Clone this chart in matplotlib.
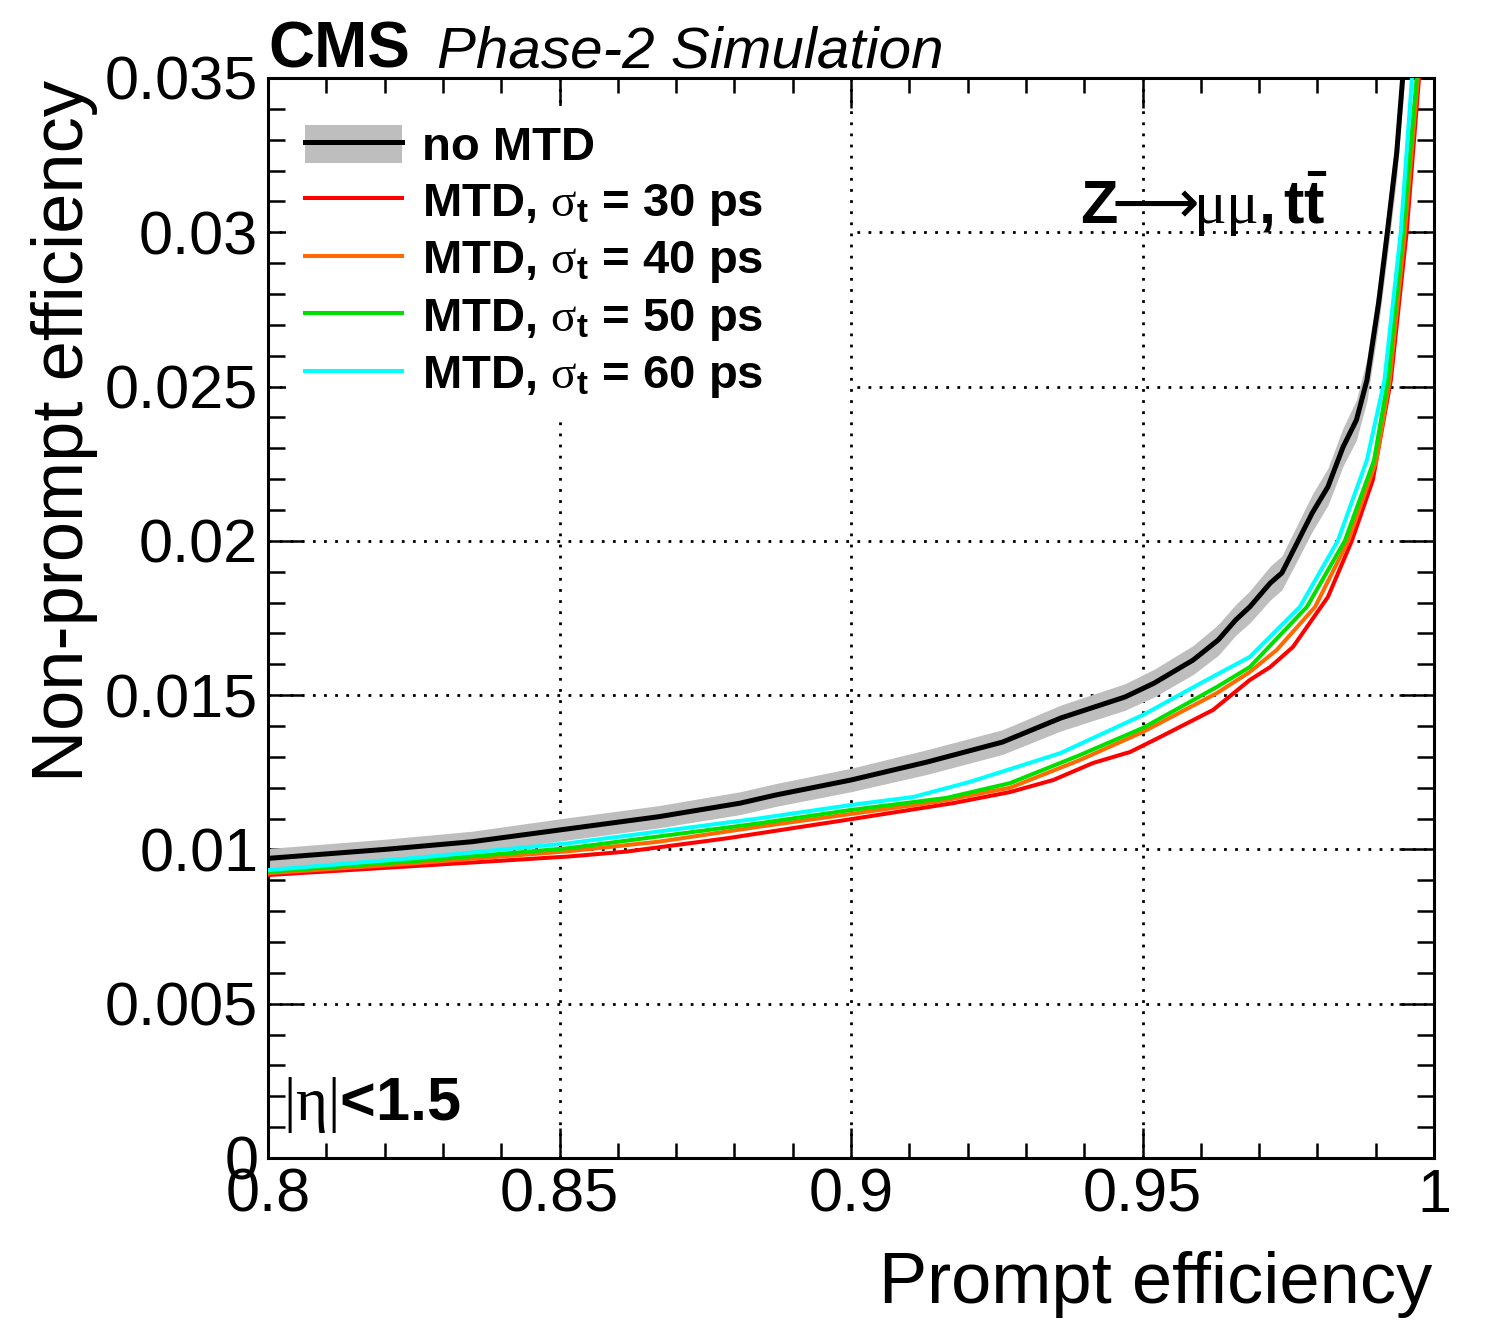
import matplotlib
matplotlib.use("Agg")
import matplotlib.pyplot as plt
from matplotlib.ticker import MultipleLocator, FixedLocator, FixedFormatter
from matplotlib.patches import Patch
from matplotlib.lines import Line2D
from matplotlib.legend_handler import HandlerTuple

plt.rcParams['font.family'] = ['Liberation Sans', 'DejaVu Sans']
plt.rcParams['mathtext.fontset'] = 'custom'
plt.rcParams['mathtext.rm'] = 'Liberation Serif'
plt.rcParams['mathtext.it'] = 'Liberation Serif:italic'
plt.rcParams['mathtext.bf'] = 'Liberation Sans:bold'
plt.rcParams['mathtext.sf'] = 'DejaVu Sans'

# ---------------- data ----------------
nomtd_x = [0.800, 0.820, 0.835, 0.850, 0.867, 0.881, 0.887, 0.900, 0.913, 0.926,
           0.936, 0.947, 0.952, 0.9587, 0.963, 0.966, 0.9684, 0.9719, 0.9739, 0.9767,
           0.9791, 0.9818, 0.9844, 0.9867, 0.9885, 0.9905, 0.9920, 0.9936, 0.9946, 0.9955]
nomtd_y = [0.00971, 0.01000, 0.01025, 0.01063, 0.01106, 0.01150, 0.01176, 0.01225, 0.01283, 0.01348,
           0.01426, 0.01494, 0.01539, 0.01614, 0.01679, 0.01744, 0.01786, 0.01863, 0.01896, 0.02000,
           0.02090, 0.02175, 0.02304, 0.02392, 0.02521, 0.02771, 0.03000, 0.03257, 0.03494, 0.03720]
nomtd_err = [0.00032, 0.00033, 0.00034, 0.00036, 0.00036, 0.00037, 0.00037, 0.00038, 0.00040, 0.00040,
             0.00042, 0.00043, 0.00045, 0.00047, 0.00050, 0.00050, 0.00052, 0.00055, 0.00055, 0.00058,
             0.00060, 0.00060, 0.00062, 0.00065, 0.00068, 0.00070, 0.00075, 0.00080, 0.00080, 0.00080]

mtd30_x = [0.800, 0.825, 0.8515, 0.8615, 0.8787, 0.900, 0.9175, 0.9273, 0.9347, 0.9415,
           0.9479, 0.9530, 0.9621, 0.9684, 0.9719, 0.9758, 0.9818, 0.9859, 0.9895, 0.9926,
           0.9953, 0.9974, 0.9980]
mtd30_y = [0.00917, 0.00946, 0.00977, 0.00993, 0.01036, 0.01098, 0.01150, 0.01186, 0.01225, 0.01280,
           0.01316, 0.01364, 0.01452, 0.01549, 0.01591, 0.01656, 0.01818, 0.02000, 0.02197, 0.02521,
           0.03000, 0.03494, 0.03720]

mtd40_x = [0.800, 0.825, 0.8515, 0.867, 0.8844, 0.900, 0.915, 0.9273, 0.9393, 0.9501,
           0.9628, 0.9684, 0.9730, 0.9796, 0.9853, 0.9901, 0.9924, 0.9950, 0.9972, 0.9978]
mtd40_y = [0.00923, 0.00955, 0.00994, 0.01025, 0.01074, 0.01115, 0.01155, 0.01200, 0.01290, 0.01381,
           0.01507, 0.01575, 0.01646, 0.01786, 0.02000, 0.02260, 0.02521, 0.03000, 0.03494, 0.03720]

mtd50_x = [0.800, 0.825, 0.8515, 0.867, 0.8844, 0.900, 0.9164, 0.9273, 0.9393, 0.9501,
           0.9628, 0.9684, 0.9782, 0.9847, 0.9897, 0.9921, 0.9947, 0.9970, 0.9976]
mtd50_y = [0.00928, 0.00962, 0.01004, 0.01042, 0.01085, 0.01128, 0.01167, 0.01215, 0.01306, 0.01394,
           0.01527, 0.01591, 0.01786, 0.02000, 0.02260, 0.02521, 0.03000, 0.03494, 0.03720]

mtd60_x = [0.800, 0.825, 0.8515, 0.867, 0.8844, 0.900, 0.9107, 0.9204, 0.9359, 0.9501,
           0.9604, 0.9684, 0.9770, 0.9835, 0.9885, 0.9915, 0.9943, 0.9962, 0.9970]
mtd60_y = [0.00933, 0.00972, 0.01020, 0.01058, 0.01101, 0.01144, 0.01170, 0.01219, 0.01312, 0.01436,
           0.01543, 0.01624, 0.01786, 0.02000, 0.02262, 0.02521, 0.03000, 0.03494, 0.03720]

labels = ["no MTD",
          r"MTD, $\mathrm{\sigma}_{\mathbf{t}}$ = 30 ps",
          r"MTD, $\mathrm{\sigma}_{\mathbf{t}}$ = 40 ps",
          r"MTD, $\mathrm{\sigma}_{\mathbf{t}}$ = 50 ps",
          r"MTD, $\mathrm{\sigma}_{\mathbf{t}}$ = 60 ps"]
colors = ["#000000", "#ff0000", "#ff6a00", "#00e000", "#00ffff"]

xticks = [0.8, 0.85, 0.9, 0.95, 1.0]
xticklabels = ["0.8", "0.85", "0.9", "0.95", "1"]
yticks = [0, 0.005, 0.01, 0.015, 0.02, 0.025, 0.03, 0.035]
yticklabels = ["0", "0.005", "0.01", "0.015", "0.02", "0.025", "0.03", "0.035"]

# ---------------- figure ----------------
W, H = 1485, 1320
fig = plt.figure(figsize=(W / 100, H / 100), dpi=100)
L, R, B, T = 268, 1434, 1158, 78
ax = fig.add_axes([L / W, 1 - B / H, (R - L) / W, (B - T) / H])
ax.set_xlim(0.8, 1.0)
ax.set_ylim(0, 0.035)

# band + lines
lo = [y - e for y, e in zip(nomtd_y, nomtd_err)]
hi = [y + e for y, e in zip(nomtd_y, nomtd_err)]
ax.fill_between(nomtd_x, lo, hi, color="#bebebe", lw=0, zorder=2)
mtd_series = [(mtd30_x, mtd30_y), (mtd40_x, mtd40_y), (mtd50_x, mtd50_y), (mtd60_x, mtd60_y)]
mtd_handles = []
for (xs, ys), c in zip(mtd_series, colors[1:]):
    h, = ax.plot(xs, ys, color=c, lw=2.9, zorder=3, solid_joinstyle='round')
    mtd_handles.append(h)
hb, = ax.plot(nomtd_x, nomtd_y, color="black", lw=3.6, zorder=4, solid_joinstyle='round')

# ticks
ax.xaxis.set_major_locator(FixedLocator(xticks))
ax.xaxis.set_major_formatter(FixedFormatter(xticklabels))
ax.yaxis.set_major_locator(FixedLocator(yticks))
ax.yaxis.set_major_formatter(FixedFormatter(yticklabels))
ax.xaxis.set_minor_locator(MultipleLocator(0.01))
ax.yaxis.set_minor_locator(MultipleLocator(0.001))
ax.tick_params(axis='both', which='both', direction='in', top=True, right=True, width=1.8)
ax.tick_params(axis='x', which='major', length=21.6, labelsize=44, pad=7)
ax.tick_params(axis='x', which='minor', length=10.5)
ax.tick_params(axis='y', which='major', length=25, labelsize=44, pad=7)
ax.tick_params(axis='y', which='minor', length=12.5)
for s in ax.spines.values():
    s.set_linewidth(2.2)
ax.grid(True, which='major', color='black', lw=2.0, linestyle=(0, (1, 3.0)), zorder=1)
ax.set_axisbelow(True)

# axis labels
ax.set_xlabel("Prompt efficiency", fontsize=52, loc='right')
ax.xaxis.set_label_coords((1432 - L) / (R - L), (B - 1251) / (B - T))
ax.xaxis.label.set_va('top')
ax.set_ylabel("Non-prompt efficiency", fontsize=52, loc='top', va='top')
ax.yaxis.set_label_coords((31 - L) / (R - L), (B - 80) / (B - T))

# header
ax.text(0.0, (B - 68) / (B - T), "CMS", transform=ax.transAxes, fontsize=46,
        fontweight='bold', ha='left', va='baseline')
ax.text((437 - L) / (R - L), (B - 68) / (B - T), "Phase-2 Simulation", transform=ax.transAxes,
        fontsize=42, style='italic', ha='left', va='baseline')

# annotations
ax.text((1080 - L) / (R - L), (B - 224) / (B - T),
        r"$\mathbf{Z}\!\!\mathsf{\longrightarrow}\!\!\mathrm{\mu\mu}\mathbf{,}\,\mathbf{t\bar{t}}$",
        transform=ax.transAxes, fontsize=44, ha='left', va='baseline', zorder=5)
ax.text((283 - L) / (R - L), (B - 1120) / (B - T), r"$\mathrm{|\eta|}$<1.5",
        transform=ax.transAxes, fontsize=44, fontweight='bold', ha='left', va='baseline', zorder=5)

# legend
band_patch = Patch(facecolor="#bebebe", edgecolor='none')
handles = [(band_patch, Line2D([], [], color='black', lw=3.6))] + mtd_handles
leg = ax.legend(handles, labels, loc='upper left',
                bbox_to_anchor=((286 - L) / (R - L), (B - 106) / (B - T),
                                (850 - 286) / (R - L), 0),
                mode='expand',
                handler_map={tuple: HandlerTuple(ndivide=1, pad=0)},
                prop={'weight': 'bold', 'size': 34}, frameon=True, fancybox=False,
                framealpha=1, facecolor='white', edgecolor='none', borderpad=0.4,
                borderaxespad=0, handlelength=2.05, handleheight=0.85, handletextpad=0.44,
                labelspacing=0.22)
leg.set_zorder(6)

fig.savefig("out.png", dpi=100)
